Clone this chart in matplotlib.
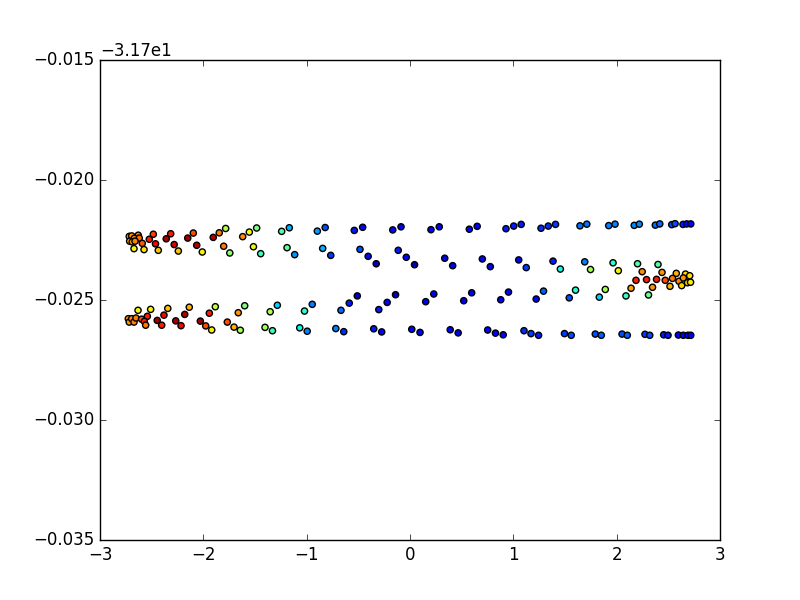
import numpy as np
import matplotlib
matplotlib.use("Agg")
import matplotlib.pyplot as plt
from matplotlib.ticker import ScalarFormatter

plt.style.use('classic')

# upper strand of the top band
top_upper_x = [-2.717, -2.693, -2.630, -2.668, -2.620, -2.523, -2.484, -2.359, -2.316, -2.151,
               -2.097, -1.904, -1.846, -1.784, -1.619, -1.555, -1.484, -1.242, -1.168, -0.897,
               -0.821, -0.539, -0.458, -0.167, -0.087, 0.203, 0.283, 0.574, 0.650, 0.929,
               1.004, 1.076, 1.268, 1.338, 1.408, 1.645, 1.711, 1.923, 1.984, 2.170,
               2.219, 2.374, 2.417, 2.533, 2.565, 2.642, 2.678, 2.717]
top_upper_y = [-31.72235, -31.72233, -31.72230, -31.72243, -31.72242, -31.72247, -31.72226, -31.72245, -31.72224, -31.72242,
               -31.72221, -31.72239, -31.72220, -31.72202, -31.72236, -31.72217, -31.72200, -31.72214, -31.72199, -31.72213,
               -31.72198, -31.72210, -31.72197, -31.72208, -31.72195, -31.72207, -31.72195, -31.72205, -31.72193, -31.72203,
               -31.72192, -31.72185, -31.72201, -31.72192, -31.72185, -31.72191, -31.72184, -31.72190, -31.72184, -31.72189,
               -31.72184, -31.72188, -31.72183, -31.72186, -31.72182, -31.72185, -31.72183, -31.72183]
top_upper_c = [0.75, 0.75, 0.78, 0.78, 0.80, 0.88, 0.84, 0.96, 0.88, 0.97,
               0.83, 0.95, 0.78, 0.57, 0.76, 0.63, 0.50, 0.45, 0.30, 0.28,
               0.20, 0.15, 0.13, 0.13, 0.12, 0.12, 0.12, 0.12, 0.12, 0.15,
               0.15, 0.15, 0.17, 0.17, 0.18, 0.24, 0.24, 0.25, 0.25, 0.26,
               0.26, 0.23, 0.23, 0.20, 0.20, 0.15, 0.12, 0.11]

# lower strand of the top band
top_lower_x = [-2.713, -2.688, -2.661, -2.591, -2.671, -2.574, -2.463, -2.436, -2.282, -2.242,
               -2.064, -2.010, -1.803, -1.744, -1.515, -1.445, -1.190, -1.116, -0.845, -0.767,
               -0.484, -0.405, -0.327, -0.114, -0.036, 0.044, 0.336, 0.413, 0.700, 0.777,
               1.052, 1.125, 1.384, 1.455, 1.691, 1.747, 1.965, 2.016, 2.202, 2.247,
               2.400, 2.439, 2.577, 2.666, 2.707]
top_lower_y = [-31.72255, -31.72258, -31.72255, -31.72264, -31.72286, -31.72290, -31.72266, -31.72293, -31.72269, -31.72296,
               -31.72272, -31.72300, -31.72276, -31.72304, -31.72278, -31.72307, -31.72282, -31.72311, -31.72285, -31.72314,
               -31.72289, -31.72318, -31.72349, -31.72293, -31.72322, -31.72353, -31.72326, -31.72357, -31.72329, -31.72361,
               -31.72333, -31.72365, -31.72338, -31.72371, -31.72341, -31.72373, -31.72345, -31.72378, -31.72349, -31.72382,
               -31.72352, -31.72385, -31.72389, -31.72392, -31.72399]
top_lower_c = [0.72, 0.75, 0.77, 0.82, 0.65, 0.67, 0.90, 0.70, 0.92, 0.70,
               0.95, 0.65, 0.78, 0.52, 0.63, 0.42, 0.47, 0.27, 0.30, 0.18,
               0.20, 0.13, 0.05, 0.15, 0.12, 0.05, 0.10, 0.10, 0.12, 0.12,
               0.13, 0.18, 0.15, 0.37, 0.25, 0.55, 0.40, 0.65, 0.45, 0.76,
               0.45, 0.75, 0.72, 0.68, 0.67]

# upper strand of the bottom band
bot_upper_x = [-2.632, -2.510, -2.542, -2.381, -2.344, -2.180, -2.136, -1.942, -1.884, -1.662,
               -1.600, -1.353, -1.284, -1.021, -0.946, -0.668, -0.588, -0.510, -0.302, -0.221,
               -0.140, 0.152, 0.230, 0.520, 0.597, 0.878, 0.953, 1.221, 1.292, 1.541,
               1.602, 1.832, 1.890, 2.090, 2.139, 2.187, 2.289, 2.308, 2.347, 2.386,
               2.470, 2.516, 2.540, 2.603, 2.629, 2.645, 2.686, 2.715]
bot_upper_y = [-31.72543, -31.72539, -31.72568, -31.72563, -31.72535, -31.72560, -31.72530, -31.72555, -31.72528, -31.72553,
               -31.72524, -31.72549, -31.72522, -31.72546, -31.72518, -31.72543, -31.72513, -31.72483, -31.72540, -31.72510,
               -31.72478, -31.72507, -31.72475, -31.72503, -31.72470, -31.72499, -31.72467, -31.72496, -31.72463, -31.72491,
               -31.72459, -31.72488, -31.72456, -31.72483, -31.72451, -31.72418, -31.72415, -31.72479, -31.72447, -31.72414,
               -31.72418, -31.72443, -31.72410, -31.72422, -31.72440, -31.72408, -31.72428, -31.72426]
bot_upper_c = [0.65, 0.65, 0.88, 0.90, 0.70, 0.96, 0.72, 0.88, 0.58, 0.75,
               0.50, 0.56, 0.33, 0.40, 0.25, 0.23, 0.15, 0.05, 0.15, 0.12,
               0.05, 0.10, 0.10, 0.10, 0.10, 0.12, 0.13, 0.13, 0.22, 0.20,
               0.40, 0.33, 0.55, 0.42, 0.74, 0.88, 0.88, 0.47, 0.75, 0.88,
               0.83, 0.72, 0.78, 0.77, 0.68, 0.75, 0.67, 0.66]

# lower strand of the bottom band
bot_lower_x = [-2.726, -2.717, -2.693, -2.671, -2.652, -2.597, -2.571, -2.558, -2.446, -2.403,
               -2.267, -2.216, -2.029, -1.977, -1.919, -1.768, -1.703, -1.642, -1.403, -1.331,
               -1.067, -0.995, -0.718, -0.641, -0.351, -0.274, 0.017, 0.097, 0.389, 0.466,
               0.752, 0.827, 0.902, 1.103, 1.171, 1.244, 1.495, 1.560, 1.793, 1.851,
               2.052, 2.103, 2.274, 2.320, 2.455, 2.497, 2.597, 2.645, 2.690, 2.717]
bot_lower_y = [-31.72578, -31.72592, -31.72578, -31.72592, -31.72575, -31.72580, -31.72589, -31.72605, -31.72585, -31.72605,
               -31.72587, -31.72607, -31.72588, -31.72608, -31.72625, -31.72592, -31.72613, -31.72626, -31.72614, -31.72628,
               -31.72616, -31.72630, -31.72619, -31.72632, -31.72620, -31.72633, -31.72622, -31.72635, -31.72624, -31.72637,
               -31.72625, -31.72638, -31.72645, -31.72628, -31.72640, -31.72647, -31.72640, -31.72647, -31.72642, -31.72647,
               -31.72642, -31.72647, -31.72643, -31.72647, -31.72645, -31.72647, -31.72646, -31.72647, -31.72647, -31.72647]
bot_lower_c = [0.75, 0.75, 0.77, 0.77, 0.78, 0.82, 0.88, 0.78, 0.97, 0.88,
               0.97, 0.90, 0.97, 0.83, 0.65, 0.83, 0.72, 0.55, 0.55, 0.42,
               0.37, 0.25, 0.25, 0.17, 0.15, 0.13, 0.12, 0.11, 0.11, 0.11,
               0.12, 0.12, 0.13, 0.17, 0.18, 0.15, 0.18, 0.20, 0.20, 0.22,
               0.20, 0.22, 0.18, 0.20, 0.15, 0.15, 0.12, 0.12, 0.10, 0.10]

x = np.concatenate([top_upper_x, top_lower_x, bot_upper_x, bot_lower_x])
y = np.concatenate([top_upper_y, top_lower_y, bot_upper_y, bot_lower_y])
c = np.concatenate([top_upper_c, top_lower_c, bot_upper_c, bot_lower_c])

fig = plt.figure(figsize=(8, 6), dpi=100)
fig.patch.set_facecolor('white')
ax = fig.add_subplot(111)
ax.scatter(x, y, c=c, cmap='jet', vmin=0, vmax=1, s=20,
           edgecolors='black', linewidths=1)

ax.set_xlim(-3, 3)
ax.set_ylim(-31.735, -31.715)
ax.set_yticks([-31.735, -31.730, -31.725, -31.720, -31.715])

fmt = ScalarFormatter(useOffset=-31.7)
ax.yaxis.set_major_formatter(fmt)

fig.savefig('out.png', dpi=100, facecolor='white')
